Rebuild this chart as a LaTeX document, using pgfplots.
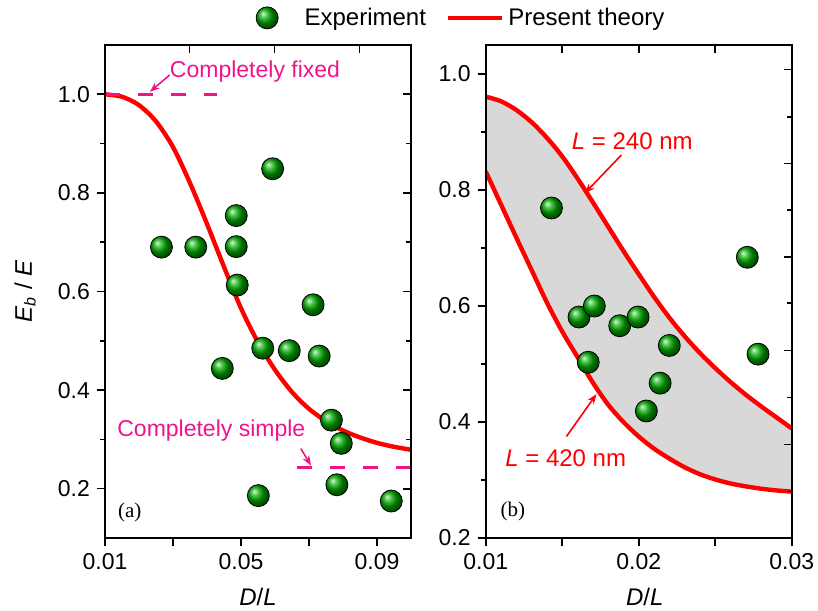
\documentclass[border=0pt]{standalone}
\usepackage{fontspec}
\setmainfont{Liberation Sans}
\newfontfamily\timesfont{Liberation Serif}
\usepackage{pgfplots}
\usepackage{pgfplotstable}
\pgfplotsset{compat=1.18}
\usetikzlibrary{arrows.meta}

\definecolor{ballg}{RGB}{0,170,0}
\definecolor{pinkc}{RGB}{240,20,140}
\definecolor{bandgray}{RGB}{216,216,216}

% panel (a): theory curve and experiment
\pgfplotstableread{
x y
0.010 1.000
0.015 0.995
0.020 0.978
0.025 0.945
0.030 0.893
0.035 0.820
0.040 0.737
0.045 0.650
0.050 0.566
0.055 0.497
0.060 0.441
0.065 0.396
0.070 0.362
0.075 0.337
0.080 0.318
0.085 0.304
0.090 0.293
0.095 0.285
0.100 0.279
}\theoryA
\pgfplotstableread{
x y
0.0266 0.690
0.0367 0.690
0.0486 0.754
0.0486 0.691
0.0489 0.613
0.0593 0.849
0.0712 0.573
0.0564 0.485
0.0642 0.480
0.0730 0.469
0.0445 0.444
0.0766 0.339
0.0795 0.292
0.0782 0.208
0.0551 0.186
0.0942 0.175
}\expA
% panel (b): L = 240 nm (upper) and L = 420 nm (lower)
\pgfplotstableread{
x y
0.010 0.961
0.011 0.953
0.012 0.938
0.013 0.917
0.014 0.890
0.015 0.858
0.016 0.820
0.017 0.779
0.018 0.737
0.019 0.695
0.020 0.655
0.021 0.616
0.022 0.580
0.023 0.548
0.024 0.519
0.025 0.493
0.026 0.469
0.027 0.447
0.028 0.427
0.029 0.408
0.030 0.389
}\upperB
\pgfplotstableread{
x y
0.010 0.832
0.011 0.775
0.012 0.718
0.013 0.662
0.014 0.606
0.015 0.556
0.016 0.512
0.017 0.468
0.018 0.430
0.019 0.400
0.020 0.375
0.021 0.354
0.022 0.337
0.023 0.322
0.024 0.310
0.025 0.301
0.026 0.294
0.027 0.289
0.028 0.285
0.029 0.282
0.030 0.280
}\lowerB
\pgfplotstableread{
x y
0.0143 0.769
0.0271 0.684
0.0161 0.581
0.0171 0.600
0.0167 0.503
0.01876 0.566
0.01996 0.581
0.0220 0.532
0.0214 0.467
0.0205 0.419
0.0278 0.517
}\expB

\pgfplotsset{
  panel/.style={
    scale only axis, width=153pt, height=246.5pt,
    scaled x ticks=false, scaled y ticks=false,
    axis line style={line width=0.8pt},
    every tick/.style={black, line width=0.8pt},
    major tick length=4pt, minor tick length=2.5pt,
    tick label style={font=\fontsize{11.5}{13}\selectfont},
    label style={font=\fontsize{12}{14}\selectfont},
  },
  mirror/.style={
    panel, tick align=inside, xtick pos=top, ytick pos=right,
    xticklabels={}, yticklabels={},
  },
  balls/.style={only marks, mark=ball, mark size=5.5pt, ball color=ballg},
  ballleg/.style={balls,
    legend image code/.code={\path (0pt,0pt) (22pt,0pt);
      \draw[##1] plot coordinates {(5.5pt,0pt)};}},
  redleg/.style={red, line width=2.2pt,
    legend image code/.code={\draw[##1] (0pt,0pt) -- (27pt,0pt);}},
}

\begin{document}
\begin{tikzpicture}
\path[use as bounding box] (-52.5pt,-36pt) rectangle (356.5pt,269pt);

% ---- (a) ----
\begin{axis}[panel, at={(0,0)}, anchor=south west,
  xmin=0.01, xmax=0.1, ymin=0.1, ymax=1.1,
  tick align=outside, xtick pos=bottom, ytick pos=left,
  xtick={0.01,0.03,0.05,0.07,0.09}, xticklabels={0.01,,0.05,,0.09},
  ytick={0.2,0.4,0.6,0.8,1.0}, yticklabels={0.2,0.4,0.6,0.8,1.0},
  minor ytick={0.3,0.5,0.7,0.9},
  xlabel={\textit{D}/\textit{L}},
  ylabel={\textit{E}\textsubscript{\textit{b}} / \textit{E}},
  xlabel style={at={(axis description cs:0.5,-0.119)}, anchor=center},
  ylabel style={at={(axis description cs:-0.261,0.5)}, anchor=center},
  legend style={at={(1.167,1.055)}, anchor=center, draw=none, fill=none,
    legend columns=2, font=\fontsize{12}{14}\selectfont,
    /tikz/every even column/.append style={column sep=8pt}},
  legend cell align=left,
]
\addlegendimage{ballleg}
\addlegendentry{Experiment}
\addlegendimage{redleg}
\addlegendentry{Present theory}

\addplot[red, line width=2.2pt, smooth, forget plot] table {\theoryA};
\addplot[pinkc, line width=1.5pt, dash pattern=on 7.5pt off 9pt, forget plot]
  coordinates {(0.01,1.0) (0.0428,1.0)};
\addplot[pinkc, line width=1.5pt, dash pattern=on 7.5pt off 9pt, forget plot]
  coordinates {(0.0665,0.244) (0.1,0.244)};
\addplot[balls, forget plot] table {\expA};

\node[pinkc, anchor=west, font=\fontsize{11.5}{13}\selectfont, inner sep=0pt]
  at (axis cs:0.0290,1.047) {Completely fixed};
\draw[pinkc, line width=0.8pt, -{Stealth[length=5pt]}]
  (axis cs:0.0290,1.039) -- (axis cs:0.0232,1.005);
\node[pinkc, font=\fontsize{11.5}{13}\selectfont, inner sep=0pt]
  at (axis cs:0.04127,0.3186) {Completely simple};
\draw[pinkc, line width=0.8pt, -{Stealth[length=5pt]}]
  (axis cs:0.0676,0.2813) -- (axis cs:0.0706,0.247);
\node[font=\timesfont\fontsize{10.5}{12}\selectfont]
  at (axis cs:0.0173,0.1524) {(a)};
\end{axis}
\begin{axis}[mirror, at={(0,0)}, anchor=south west,
  xmin=0.01, xmax=0.1, ymin=0.1, ymax=1.1,
  xtick={0.0349,0.0598,0.0849},
  ytick={0.2,0.4,0.6,0.8,1.0}, minor ytick={0.3,0.5,0.7,0.9}]
\addplot[draw=none] coordinates {(0.05,0.5)};
\end{axis}

% ---- (b) ----
\begin{axis}[panel, at={(190.35pt,0)}, anchor=south west,
  xmin=0.01, xmax=0.03, ymin=0.2, ymax=1.05,
  tick align=outside, xtick pos=bottom, ytick pos=left,
  xtick={0.01,0.015,0.02,0.025,0.03}, xticklabels={0.01,,0.02,,0.03},
  ytick={0.2,0.4,0.6,0.8,1.0}, yticklabels={0.2,0.4,0.6,0.8,1.0},
  minor ytick={0.3,0.5,0.7,0.9},
  xlabel={\textit{D}/\textit{L}},
  xlabel style={at={(axis description cs:0.52,-0.119)}, anchor=center},
  axis on top,
]
% grey band: fill under upper curve, then blank out under lower curve
\addplot[fill=bandgray, draw=none, smooth] table {\upperB} \closedcycle;
\addplot[fill=white, draw=none, smooth] table {\lowerB} \closedcycle;
\addplot[red, line width=2.2pt, smooth] table {\upperB};
\addplot[red, line width=2.2pt, smooth] table {\lowerB};
\addplot[balls] table {\expB};

\node[red, font=\fontsize{12}{14}\selectfont, inner sep=0pt]
  at (axis cs:0.01958,0.8834) {\textit{L} = 240 nm};
\draw[red, line width=0.8pt, -{Stealth[length=5pt]}]
  (axis cs:0.01887,0.8604) -- (axis cs:0.01648,0.7945);
\node[red, font=\fontsize{12}{14}\selectfont, inner sep=0pt]
  at (axis cs:0.01523,0.3379) {\textit{L} = 420 nm};
\draw[red, line width=0.8pt, -{Stealth[length=5pt]}]
  (axis cs:0.01528,0.3751) -- (axis cs:0.01724,0.4481);
\node[font=\timesfont\fontsize{10.5}{12}\selectfont]
  at (axis cs:0.01178,0.2459) {(b)};
\end{axis}
\begin{axis}[mirror, at={(190.35pt,0)}, anchor=south west,
  xmin=0.01, xmax=0.03, ymin=0.2, ymax=1.05,
  xtick={0.015,0.02,0.025},
  ytick={0.361,0.523,0.685,0.846,1.008},
  minor ytick={0.280,0.442,0.605,0.766,0.926}]
\addplot[draw=none] coordinates {(0.02,0.5)};
\end{axis}
\end{tikzpicture}
\end{document}
